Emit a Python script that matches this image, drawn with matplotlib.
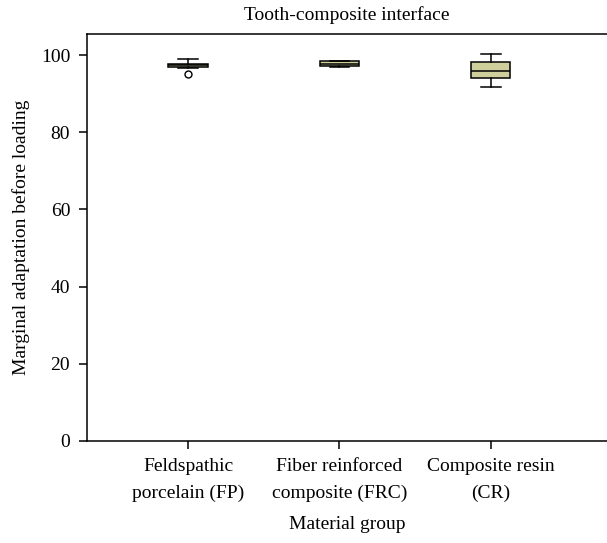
import matplotlib
matplotlib.use("Agg")
import matplotlib.pyplot as plt

groups = ["Feldspathic\nporcelain (FP)", "Fiber reinforced\ncomposite (FRC)", "Composite resin\n(CR)"]
q1 = [97.0, 97.2, 94.0]
med = [97.3, 97.8, 95.9]
q3 = [97.8, 98.4, 98.3]
whislo = [96.6, 97.0, 91.8]
whishi = [99.0, 98.4, 100.2]
outliers = [[95.1], [], []]

plt.rcParams['font.family'] = ['Liberation Serif', 'DejaVu Serif']

stats = []
for i in range(len(groups)):
    stats.append({'q1': q1[i], 'med': med[i], 'q3': q3[i],
                  'whislo': whislo[i], 'whishi': whishi[i],
                  'fliers': outliers[i], 'label': groups[i]})

fig = plt.figure(figsize=(6.07, 5.43), dpi=100)
ax = fig.add_axes([0.143, 0.188, 0.857, 0.749])

ax.bxp(stats, positions=[1, 2, 3], widths=0.26, patch_artist=True,
       boxprops=dict(facecolor='#cfcf9c', edgecolor='black', linewidth=1.1),
       medianprops=dict(color='black', linewidth=1.1),
       whiskerprops=dict(color='black', linewidth=1.1),
       capprops=dict(color='black', linewidth=1.1),
       flierprops=dict(marker='o', markerfacecolor='white', markeredgecolor='black',
                       markersize=5))

ax.set_xlim(0.331, 3.768)
ax.set_ylim(0, 105.4)
ax.set_yticks([0, 20, 40, 60, 80, 100])
ax.spines['right'].set_visible(False)
for s in ['left', 'top', 'bottom']:
    ax.spines[s].set_linewidth(1.1)
ax.tick_params(direction='out', labelsize=14, length=6, width=1.1, pad=6)
ax.set_xticklabels(groups, fontsize=14, linespacing=1.75)
ax.set_xlabel("Material group", fontsize=14, labelpad=10)
ax.set_ylabel("Marginal adaptation before loading", fontsize=14, labelpad=8)
ax.set_title("Tooth-composite interface", fontsize=14, pad=10)

fig.savefig("out.png", dpi=100)
